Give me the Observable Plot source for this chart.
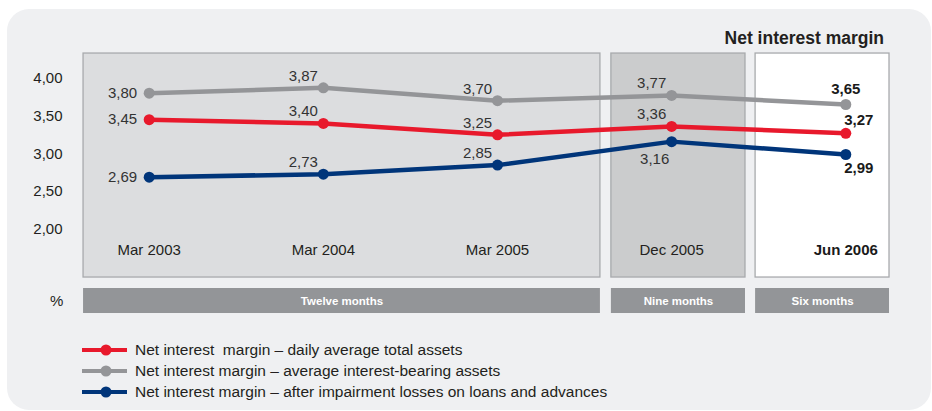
<!DOCTYPE html>
<html>
<head>
<meta charset="utf-8">
<script src="https://cdn.jsdelivr.net/npm/d3@7"></script>
<script src="https://cdn.jsdelivr.net/npm/@observablehq/plot@0.6"></script>
<style>
  html, body { margin: 0; padding: 0; background: #ffffff; }
  #wrap { position: relative; width: 932px; height: 411px; overflow: hidden; font-family: "Liberation Sans", Arial, sans-serif; }
  #bg { position: absolute; left: 7px; top: 9px; width: 924px; height: 401px; background: #eff0f2; border-radius: 22px; }
  #chart { position: absolute; left: 0; top: 0; }
  #title { position: absolute; right: 48px; top: 28px; font-size: 17.5px; font-weight: bold; color: #231f20; }
  #legend { position: absolute; left: 82px; top: 340px; font-size: 15.5px; color: #231f20; }
  .row { display: flex; align-items: center; height: 20.8px; white-space: pre; }
  .row svg { margin-right: 8px; }
</style>
</head>
<body>
<div id="wrap">
  <div id="bg"></div>
  <div id="chart"></div>
  <div id="title">Net interest margin</div>
  <div id="legend"></div>
</div>
<script>
// ---- data ----
const periods = ["Mar 2003", "Mar 2004", "Mar 2005", "Dec 2005", "Jun 2006"];
const dailyAverageTotalAssets = [3.45, 3.40, 3.25, 3.36, 3.27];
const averageInterestBearingAssets = [3.80, 3.87, 3.70, 3.77, 3.65];
const afterImpairmentLosses = [2.69, 2.73, 2.85, 3.16, 2.99];
const yTicks = [2.0, 2.5, 3.0, 3.5, 4.0];
const groupLabels = ["Twelve months", "Nine months", "Six months"];
const seriesNames = [
  "Net interest  margin – daily average total assets",
  "Net interest margin – average interest-bearing assets",
  "Net interest margin – after impairment losses on loans and advances"
];

// ---- layout / style ----
const seriesColors = ["#e8192c", "#949598", "#00357a"];
const groupX1 = [-0.377, 2.654, 3.482];
const groupX2 = [2.591, 3.424, 4.251];
const groupFill = ["#dcdddf", "#cbcccd", "#ffffff"];
const panelTop = 4.323, panelBottom = 1.366;
const barTop = 1.221, barBottom = 0.891;
const labelPlacement = [
  ["left", "above-left", "above-left", "above-left", "above-right"],  // daily avg total
  ["left", "above-left", "above-left", "above-left", "above"],        // interest-bearing
  ["left", "above-left", "above-left", "below-left", "below-right"]   // after impairment
];
const placements = {
  "left": {dx: -12, dy: 0, textAnchor: "end"},
  "above-left": {dx: -20, dy: -12, textAnchor: "middle"},
  "below-left": {dx: -17, dy: 18, textAnchor: "middle"},
  "above": {dx: 0, dy: -15, textAnchor: "middle"},
  "above-right": {dx: 13, dy: -13, textAnchor: "middle"},
  "below-right": {dx: 13, dy: 14, textAnchor: "middle"}
};

const series = [dailyAverageTotalAssets, averageInterestBearingAssets, afterImpairmentLosses];
const points = [];
series.forEach((vals, s) => vals.forEach((v, i) => points.push({
  s, i, period: periods[i], value: v, place: labelPlacement[s][i], last: i === periods.length - 1
})));
const groups = groupLabels.map((label, g) => ({label, x1: groupX1[g], x2: groupX2[g], fill: groupFill[g]}));
const fmt = v => v.toFixed(2).replace(".", ",");
const cats = periods.map((p, i) => ({p, i, last: i === periods.length - 1}));

const marks = [];
// panels
marks.push(Plot.rect(groups, {x1: "x1", x2: "x2", y1: panelBottom, y2: panelTop, fill: "fill", stroke: "#a8aaad", strokeWidth: 1.3}));
// group bars
marks.push(Plot.rect(groups, {x1: "x1", x2: "x2", y1: barBottom, y2: barTop, fill: "#939598"}));
marks.push(Plot.text(groups, {x: d => (d.x1 + d.x2) / 2, y: (barTop + barBottom) / 2, text: "label", fill: "#ffffff", fontWeight: "bold", fontSize: 11.5}));
// category labels
marks.push(Plot.text(cats.filter(d => !d.last), {x: "i", y: 2, dy: 21, text: "p", fill: "#231f20", fontSize: 15}));
marks.push(Plot.text(cats.filter(d => d.last), {x: "i", y: 2, dy: 21, text: "p", fill: "#1a1a1a", fontSize: 15, fontWeight: "bold"}));
// % label
marks.push(Plot.text(["%"], {x: -0.532, y: (barTop + barBottom) / 2, text: d => d, fill: "#231f20", fontSize: 15}));
// lines and dots
[1, 0, 2].forEach(s => {
  const pts = points.filter(d => d.s === s);
  marks.push(Plot.line(pts, {x: "i", y: "value", stroke: seriesColors[s], strokeWidth: 4.5}));
  marks.push(Plot.dot(pts, {x: "i", y: "value", r: 5.5, fill: seriesColors[s]}));
});
// value labels
Object.entries(placements).forEach(([name, p]) => {
  [false, true].forEach(last => {
    const pts = points.filter(d => d.place === name && d.last === last);
    if (!pts.length) return;
    marks.push(Plot.text(pts, {
      x: "i", y: "value", text: d => fmt(d.value), dx: p.dx, dy: p.dy, textAnchor: p.textAnchor,
      fontSize: 15, fill: last ? "#1a1a1a" : "#333333", fontWeight: last ? "bold" : "normal"
    }));
  });
});
// y axis
marks.push(Plot.axisY({ticks: yTicks, tickSize: 0, tickPadding: 3, tickFormat: fmt, fontSize: 15, color: "#231f20", label: null}));

const chart = Plot.plot({
  width: 932,
  height: 411,
  marginLeft: 65,
  marginTop: 0,
  marginRight: 0,
  marginBottom: 0,
  style: {background: "transparent", fontFamily: "'Liberation Sans', Arial, sans-serif", fontSize: "15px", color: "#231f20"},
  x: {domain: [0, periods.length - 1], range: [148.7, 845.3], axis: null},
  y: {domain: [2, 4], range: [229, 77.5], label: null},
  color: {type: "identity"},
  marks
});
document.getElementById("chart").appendChild(chart);

// legend
const legend = document.getElementById("legend");
seriesNames.forEach((name, s) => {
  const row = document.createElement("div");
  row.className = "row";
  row.innerHTML = `<svg width="45" height="12"><line x1="0" x2="45" y1="6" y2="6" stroke="${seriesColors[s]}" stroke-width="4"/><circle cx="24" cy="6" r="5.5" fill="${seriesColors[s]}"/></svg>`;
  const span = document.createElement("span");
  span.textContent = name;
  row.appendChild(span);
  legend.appendChild(row);
});
</script>
</body>
</html>
